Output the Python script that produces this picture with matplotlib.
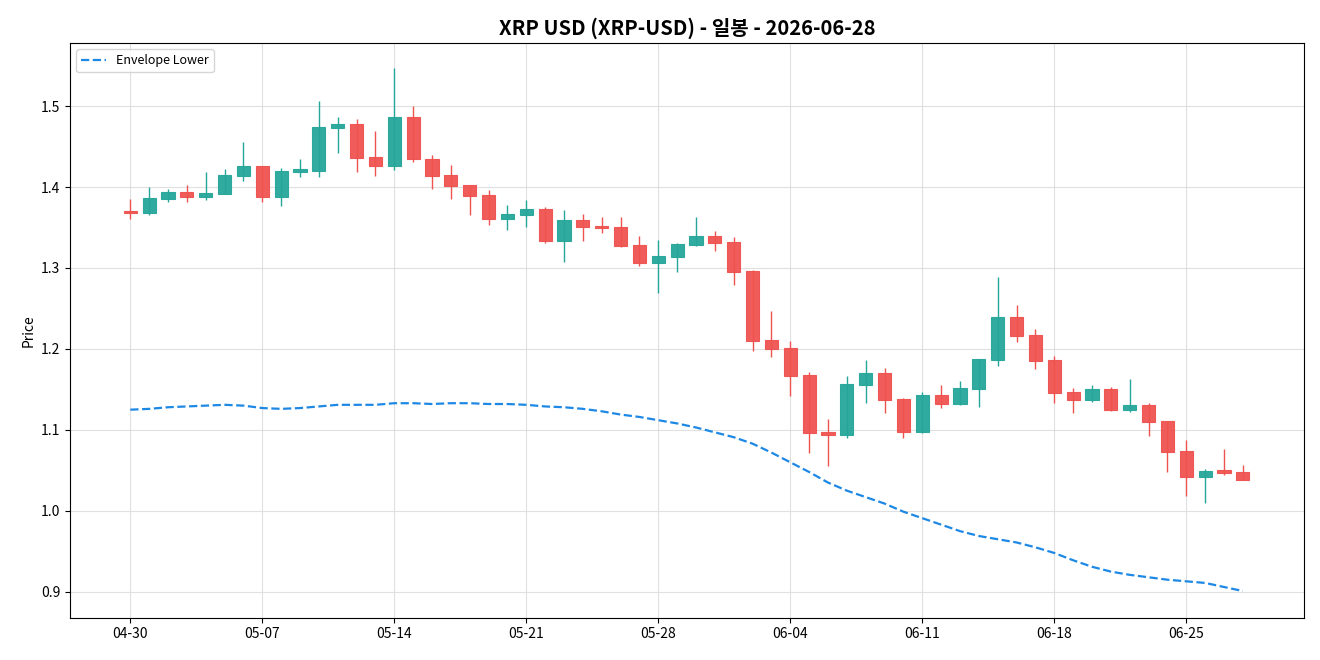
import matplotlib
matplotlib.use("Agg")
import matplotlib.pyplot as plt
import matplotlib.dates as mdates
import matplotlib.ticker as mticker
import pandas as pd

plt.rcParams['font.family'] = ['Noto Sans CJK KR', 'DejaVu Sans']

dates = pd.date_range("2026-04-30", "2026-06-28", freq="D")

opens = [1.371, 1.368, 1.385, 1.394, 1.388, 1.391, 1.414, 1.426, 1.388, 1.419,
         1.420, 1.473, 1.478, 1.437, 1.426, 1.486, 1.435, 1.415, 1.403, 1.390,
         1.361, 1.365, 1.373, 1.333, 1.359, 1.352, 1.351, 1.328, 1.306, 1.314,
         1.328, 1.340, 1.332, 1.296, 1.211, 1.201, 1.168, 1.097, 1.094, 1.156,
         1.170, 1.138, 1.098, 1.143, 1.132, 1.151, 1.186, 1.240, 1.217, 1.186,
         1.147, 1.137, 1.151, 1.125, 1.131, 1.111, 1.074, 1.042, 1.050, 1.048]
closes = [1.368, 1.387, 1.394, 1.388, 1.393, 1.415, 1.426, 1.388, 1.420, 1.422,
          1.474, 1.478, 1.436, 1.426, 1.486, 1.434, 1.414, 1.401, 1.389, 1.361,
          1.367, 1.373, 1.333, 1.359, 1.351, 1.349, 1.327, 1.306, 1.315, 1.330,
          1.340, 1.331, 1.295, 1.210, 1.200, 1.167, 1.096, 1.094, 1.157, 1.170,
          1.137, 1.098, 1.143, 1.132, 1.152, 1.188, 1.240, 1.216, 1.185, 1.146,
          1.137, 1.151, 1.125, 1.131, 1.110, 1.073, 1.042, 1.049, 1.047, 1.038]
highs = [1.385, 1.400, 1.397, 1.402, 1.419, 1.422, 1.456, 1.426, 1.424, 1.435,
         1.506, 1.487, 1.484, 1.469, 1.547, 1.500, 1.439, 1.427, 1.403, 1.396,
         1.378, 1.384, 1.375, 1.372, 1.367, 1.363, 1.363, 1.340, 1.335, 1.331,
         1.363, 1.346, 1.338, 1.297, 1.247, 1.210, 1.172, 1.114, 1.167, 1.186,
         1.176, 1.140, 1.147, 1.156, 1.160, 1.188, 1.289, 1.254, 1.225, 1.191,
         1.152, 1.155, 1.153, 1.163, 1.133, 1.111, 1.088, 1.052, 1.076, 1.057]
lows = [1.360, 1.365, 1.382, 1.381, 1.384, 1.391, 1.408, 1.381, 1.377, 1.412,
        1.412, 1.442, 1.419, 1.414, 1.421, 1.431, 1.397, 1.385, 1.366, 1.353,
        1.347, 1.351, 1.331, 1.307, 1.333, 1.343, 1.326, 1.302, 1.269, 1.295,
        1.327, 1.321, 1.279, 1.198, 1.190, 1.142, 1.071, 1.055, 1.090, 1.133,
        1.121, 1.090, 1.096, 1.127, 1.131, 1.128, 1.179, 1.208, 1.175, 1.133,
        1.121, 1.134, 1.123, 1.122, 1.092, 1.048, 1.018, 1.010, 1.044, 1.038]

envelope_lower = [1.125, 1.126, 1.128, 1.129, 1.130, 1.131, 1.130, 1.127, 1.126, 1.127,
                  1.129, 1.131, 1.131, 1.131, 1.133, 1.133, 1.132, 1.133, 1.133, 1.132,
                  1.132, 1.131, 1.129, 1.128, 1.126, 1.123, 1.119, 1.116, 1.112, 1.108,
                  1.103, 1.097, 1.091, 1.083, 1.072, 1.060, 1.048, 1.035, 1.025, 1.017,
                  1.009, 0.999, 0.991, 0.983, 0.975, 0.969, 0.965, 0.961, 0.955, 0.948,
                  0.939, 0.931, 0.925, 0.921, 0.918, 0.915, 0.913, 0.911, 0.906, 0.901]

title = "XRP USD (XRP-USD) - 일봉 - 2026-06-28"

UP = "#26a69a"
DOWN = "#ef5350"

fig = plt.figure(figsize=(13.2, 6.6), dpi=100)
ax = fig.add_axes([0.053, 0.064, 0.935, 0.871])

x = mdates.date2num(dates.to_pydatetime())
for i in range(len(x)):
    o, c, h, l = opens[i], closes[i], highs[i], lows[i]
    col = UP if c >= o else DOWN
    ax.vlines(x[i], l, h, color=col, linewidth=1.0, zorder=2)
    bottom = min(o, c)
    height = max(abs(c - o), 0.002)
    ax.bar(x[i], height, bottom=bottom, width=0.7, color=col, edgecolor=col,
           linewidth=0.8, alpha=0.95, zorder=3)

ax.plot(x, envelope_lower, linestyle="--", color="#1e88e5", linewidth=1.6,
        label="Envelope Lower", zorder=4)

ax.set_xlim(x[0] - 3.2, x[-1] + 3.25)
ax.set_ylim(0.868, 1.578)
ax.set_yticks([0.9, 1.0, 1.1, 1.2, 1.3, 1.4, 1.5])
ax.yaxis.set_major_formatter(mticker.FormatStrFormatter("%.1f"))
ax.set_xticks(x[::7])
ax.xaxis.set_major_formatter(mdates.DateFormatter("%m-%d"))
ax.tick_params(labelsize=10)
ax.grid(True, color="#d9d9d9", linewidth=0.8, alpha=0.8)
ax.set_axisbelow(True)
ax.set_ylabel("Price", fontsize=10)
ax.set_title(title, fontsize=14.5, fontweight="bold")
ax.legend(loc="upper left", fontsize=9, frameon=True)

fig.savefig("out.png", dpi=100)
